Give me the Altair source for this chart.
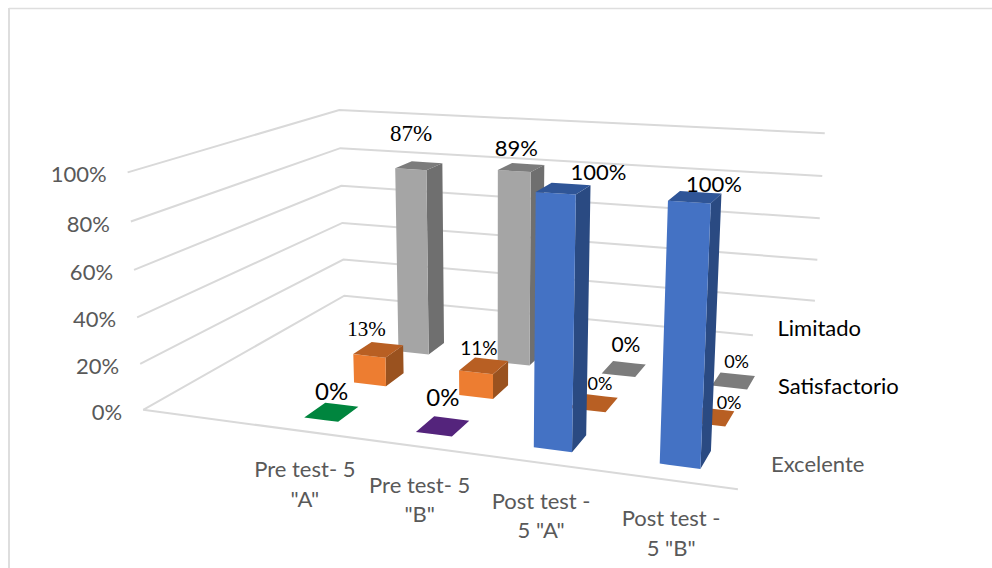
import numpy as np
import pandas as pd
import altair as alt

CATEGORIES = [['Pre test- 5', '"A"'], ['Pre test- 5', '"B"'], ['Post test -', '5 "A"'], ['Post test -', '5 "B"']]
SERIES = ["Excelente", "Satisfactorio", "Limitado"]
EXCELENTE = [0, 0, 100, 100]
SATISFACTORIO = [13, 11, 0, 0]
LIMITADO = [87, 89, 0, 0]
TICKS = [0, 20, 40, 60, 80, 100]

# camera calibration: (u, v, share of the value axis) -> screen position
CAL = []
for z, p0, p1 in zip([1, .8, .6, .4, .2, 0],
                     [(128,172),(131,222),(134,270),(137,317),(140,364),(143,410)],
                     [(340,110),(340,148),(340,186),(342,223),(344,260),(345,295)]):
    CAL += [((0, 0, z), p0), ((0, 1, z), p1)]
for z, p in zip([1, .8, .6, .4, .2], [(825,133),(822,176),(820,218),(817,260),(815,301)]):
    CAL.append(((1, 1, z), p))
CAL.append(((1, 0, 0), (738, 489)))

A = []
for (u, v, z), (x, y) in CAL:
    x, y = x / 1000, y / 1000
    A.append([u, v, z, 1, 0, 0, 0, 0, -x*u, -x*v, -x*z, -x])
    A.append([0, 0, 0, 0, u, v, z, 1, -y*u, -y*v, -y*z, -y])
P = np.linalg.svd(np.array(A))[2][-1].reshape(3, 4)

def project(u, v, z):
    q = P @ np.array([u, v, z, 1.0])
    return q[0] / q[2] * 1000, q[1] / q[2] * 1000

def poly_rows(pts, face, color):
    pts = list(pts)
    xs = sorted({round(p[0], 3) for p in pts})
    rows = []
    for x in xs:
        ys = []
        for (x0, y0), (x1, y1) in zip(pts, pts[1:] + pts[:1]):
            lo, hi = min(x0, x1), max(x0, x1)
            if lo - 1e-3 <= x <= hi + 1e-3:
                if abs(x1 - x0) < 1e-6:
                    ys += [y0, y1]
                else:
                    ys.append(y0 + (x - x0) / (x1 - x0) * (y1 - y0))
        rows.append({"x": x, "y": min(ys), "y2": max(ys), "face": face, "color": color})
    return rows

# footprint of each bar on the floor
BAR_U = [.303, .503, .702, .902]
BAR_V = [.125, .372, .625]
HU, HV = .031, .05
table = [EXCELENTE, SATISFACTORIO, LIMITADO]
FRONT = [["#00853E", "#54247C", "#4472C4", "#4472C4"], ["#ED7D31"] * 4, ["#A5A5A5"] * 4]
TOP = [["#00853E", "#54247C", "#2F5597", "#2F5597"], ["#B85F23"] * 4, ["#7C7C7C"] * 4]
SIDE = [["#00853E", "#54247C", "#2A4A82", "#2A4A82"], ["#9A521F"] * 4, ["#6F6F6F"] * 4]

face_rows = []
fid = 0
for j in [2, 1, 0]:
    for i in range(4):
        z = table[j][i] / 100
        u0, u1 = BAR_U[i] - HU, BAR_U[i] + HU
        v0, v1 = BAR_V[j] - HV, BAR_V[j] + HV
        if z > 0:
            face_rows += poly_rows([project(u1,v0,0), project(u1,v1,0), project(u1,v1,z), project(u1,v0,z)], fid, SIDE[j][i]); fid += 1
            face_rows += poly_rows([project(u0,v0,0), project(u1,v0,0), project(u1,v0,z), project(u0,v0,z)], fid, FRONT[j][i]); fid += 1
        face_rows += poly_rows([project(u0,v0,z), project(u1,v0,z), project(u1,v1,z), project(u0,v1,z)], fid, TOP[j][i]); fid += 1

grid_rows = []
for t in TICKS:
    z = t / 100
    end = .885 if t == 0 else 1
    for k, (u, v) in enumerate([(0, 0), (0, 1), (end, 1)]):
        x, y = project(u, v, z)
        grid_rows.append({"x": x, "y": y, "line": t, "k": k})
for k, u in enumerate([0, 1]):
    x, y = project(u, 0, 0)
    grid_rows.append({"x": x, "y": y, "line": -1, "k": k})

# data label placement relative to the centre of each bar top: dx, dy, size, serif
LABEL_STYLE = {
    (0, 0): (0, -19, 24, 0), (0, 1): (0, -27, 24, 0), (0, 2): (35, -16, 22, 0), (0, 3): (19, -12, 22, 0),
    (1, 0): (-12, -20, 21, 1), (1, 1): (-5, -17, 19, 0), (1, 2): (6, -18, 18, 0), (1, 3): (18, -13, 18, 0),
    (2, 0): (-8, -32, 23, 1), (2, 1): (-5, -18, 22, 0), (2, 2): (2, -23, 21, 0), (2, 3): (3, -18, 18, 0),
}
label_rows = []
for (j, i), (dx, dy, size, serif) in LABEL_STYLE.items():
    v = table[j][i]
    x, y = project(BAR_U[i], BAR_V[j], v / 100)
    label_rows.append({"x": x + dx, "y": y + dy, "t": f"{v}%", "size": size, "serif": serif})
labels = pd.DataFrame(label_rows)

tick_rows = []
for t in TICKS:
    x, y = project(0, 0, t / 100)
    tick_rows.append({"x": x - 21, "y": y + 3, "t": f"{t}%"})

cat_rows = []
for i, lines in enumerate(CATEGORIES):
    x, y = project(BAR_U[i], 0, 0)
    for k, line in enumerate(lines):
        cat_rows.append({"x": x, "y": y + 39 + 29.5 * k, "t": line})

# series names sit past the right end of the floor
series_rows = []
for name, v, dx, dy, col in zip(SERIES, BAR_V, [21, 7, -12], [0, -37, -58], ["#595959", "#000000", "#000000"]):
    x, y = project(1, v, 0)
    series_rows.append({"x": x + dx, "y": y + dy, "t": name, "color": col})

X = alt.X("x:Q", axis=None, scale=alt.Scale(domain=[0, 992], nice=False, zero=False))
Y = alt.Y("y:Q", axis=None, scale=alt.Scale(domain=[568, 0], nice=False, zero=False))
FONT = "Lato"

frame = alt.Chart(pd.DataFrame({"k": [0]})).mark_rule(color="#DEDEDE", strokeWidth=2).encode(
    x=alt.value(9), y=alt.value(8), y2=alt.value(568))
frame_top = alt.Chart(pd.DataFrame({"k": [0]})).mark_rule(color="#DEDEDE", strokeWidth=1.5).encode(
    x=alt.value(9), x2=alt.value(992), y=alt.value(8.5))
grid = alt.Chart(pd.DataFrame(grid_rows)).mark_line(color="#D9D9D9", strokeWidth=2).encode(
    x=X, y=Y, detail="line:N", order="k:Q")
faces = alt.Chart(pd.DataFrame(face_rows)).mark_area(opacity=1).encode(
    x=X, y=Y, y2="y2:Q", detail="face:N", fill=alt.Fill("color:N", scale=None))
label_sans = alt.Chart(labels[labels.serif == 0]).mark_text(font=FONT, color="#000000", baseline="middle").encode(
    x=X, y=Y, text="t:N", size=alt.Size("size:Q", scale=None))
label_serif = alt.Chart(labels[labels.serif == 1]).mark_text(font="Liberation Serif", color="#000000", baseline="middle").encode(
    x=X, y=Y, text="t:N", size=alt.Size("size:Q", scale=None))
ticks = alt.Chart(pd.DataFrame(tick_rows)).mark_text(font=FONT, fontSize=22, color="#595959", align="right", baseline="middle").encode(
    x=X, y=Y, text="t:N")
cats = alt.Chart(pd.DataFrame(cat_rows)).mark_text(font=FONT, fontSize=22, color="#595959", baseline="middle").encode(
    x=X, y=Y, text="t:N")
series = alt.Chart(pd.DataFrame(series_rows)).mark_text(font=FONT, fontSize=22, align="left", baseline="middle").encode(
    x=X, y=Y, text="t:N", color=alt.Color("color:N", scale=None))

chart = alt.layer(frame, frame_top, grid, faces, label_sans, label_serif, ticks, cats, series).properties(
    width=992, height=568, padding=0, autosize=alt.AutoSizeParams(type="none")
).configure_view(stroke=None)
chart.save("out.html", embed_options={"renderer": "svg", "actions": False})
